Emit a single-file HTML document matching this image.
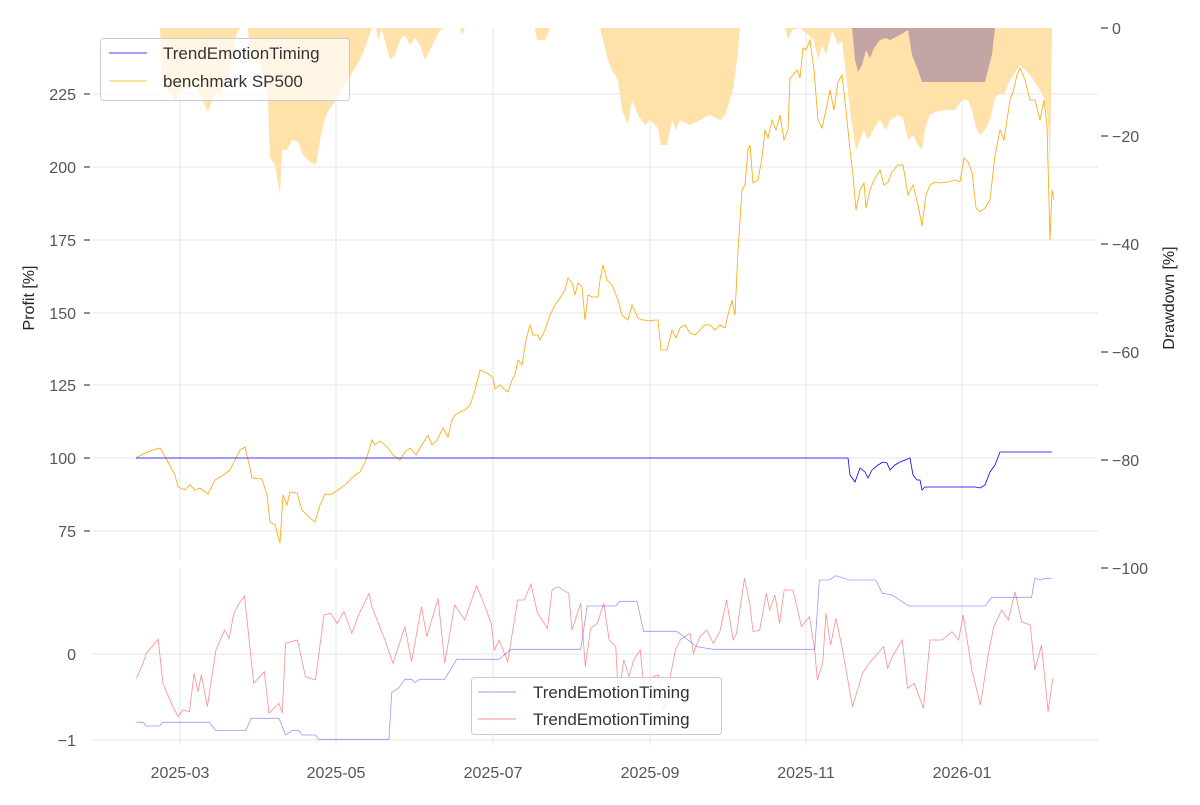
<!DOCTYPE html>
<html><head><meta charset="utf-8"><style>
body{margin:0;background:#fff}
svg text{font-family:"Liberation Sans",sans-serif;}
</style></head><body>
<svg width="1200" height="800" viewBox="0 0 1200 800" xmlns="http://www.w3.org/2000/svg">
<rect width="1200" height="800" fill="#fff"/>
<g stroke="#e5e5e5" stroke-width="1">
<line x1="93" x2="1098" y1="94" y2="94"/><line x1="93" x2="1098" y1="167" y2="167"/><line x1="93" x2="1098" y1="240" y2="240"/><line x1="93" x2="1098" y1="313" y2="313"/><line x1="93" x2="1098" y1="385" y2="385"/><line x1="93" x2="1098" y1="458" y2="458"/><line x1="93" x2="1098" y1="531" y2="531"/>
<line x1="180" x2="180" y1="28" y2="560"/><line x1="336" x2="336" y1="28" y2="560"/><line x1="493" x2="493" y1="28" y2="560"/><line x1="650" x2="650" y1="28" y2="560"/><line x1="806" x2="806" y1="28" y2="560"/><line x1="962" x2="962" y1="28" y2="560"/>
<line x1="93" x2="1098" y1="654" y2="654"/><line x1="93" x2="1098" y1="740" y2="740"/>
<line x1="180" x2="180" y1="568" y2="745"/><line x1="336" x2="336" y1="568" y2="745"/><line x1="493" x2="493" y1="568" y2="745"/><line x1="650" x2="650" y1="568" y2="745"/><line x1="806" x2="806" y1="568" y2="745"/><line x1="962" x2="962" y1="568" y2="745"/>
</g>
<polygon fill="#ffe1aa" points="160,28 162,80 168,90 175,100 180,95 185,88 190,90 195,85 200,95 205,105 208,112 212,100 216,92 220,95 225,80 230,70 233,55 236,35 240,28 248,28 250,55 255,60 260,65 265,80 268,100 270,158 275,165 280,195 282,150 287,150 292,140 298,142 303,155 310,162 316,165 320,140 325,118 330,108 337,100 342,90 348,80 355,68 360,60 366,45 372,28 376,28 378,40 382,30 386,45 390,60 395,55 400,40 405,35 410,45 415,38 420,45 425,60 430,50 435,40 440,30 445,28 460,28 462,35 465,28 535,28 537,40 545,40 550,28 600,28 603,40 608,60 612,70 618,80 622,110 628,125 632,100 638,115 645,125 650,120 655,125 658,128 661,145 667,145 672,120 676,130 680,120 690,125 700,120 710,115 720,120 725,115 730,100 733,90 737,60 740,28 785,28 788,40 792,30 800,28 814,40 818,60 822,45 826,55 832,30 838,45 842,40 846,75 850,110 852,125 856,150 860,140 864,130 868,140 872,132 876,125 880,120 886,130 890,120 898,115 903,118 908,140 913,135 918,145 922,150 926,125 930,115 935,112 945,110 955,110 962,100 968,100 972,110 976,128 980,135 985,130 990,120 995,98 1000,93 1004,95 1010,80 1020,65 1030,75 1040,90 1045,100 1048,120 1050,170 1052,30 1052,28"/>
<polygon fill="#c4a5a5" points="852,28 855,60 858,72 862,65 866,50 870,58 874,48 880,40 886,38 890,40 900,35 908,30 912,55 918,70 922,82 960,82 985,82 988,70 992,55 995,28"/>
<polyline fill="none" stroke="#ffa500" stroke-width="0.8" points="136,458 145,453 150,451 160,448 163,453 168,462 175,475 178,487 185,490 190,485 195,490 200,488 208,494 215,480 222,476 230,470 235,460 240,450 245,447 250,468 252,478 262,479 267,495 270,522 275,525 280,543 283,495 287,505 290,492 297,493 302,510 310,518 315,522 320,505 325,494 330,495 338,490 345,485 350,480 355,475 360,472 366,460 372,440 375,445 380,441 387,447 393,455 400,460 405,452 410,448 416,455 420,448 425,440 428,435 432,445 437,440 443,428 448,437 452,420 455,415 460,412 465,410 470,405 475,390 480,370 485,372 490,375 493,378 495,389 500,385 505,390 508,392 512,380 515,375 518,360 522,365 526,340 530,325 533,335 538,335 540,340 545,330 550,315 555,305 560,298 565,290 568,278 572,283 575,295 578,283 582,287 585,320 588,295 592,297 598,297 600,280 603,265 607,280 612,285 618,300 622,315 628,320 632,305 638,318 642,320 645,320 650,321 655,320 658,320 661,350 667,350 672,330 676,338 680,328 685,325 690,333 695,335 700,330 705,325 710,325 715,330 720,325 725,328 728,315 732,300 735,315 738,250 742,190 745,185 748,150 750,145 753,183 758,180 762,158 765,130 768,138 772,120 776,130 780,115 784,140 788,130 790,78 793,75 797,70 800,78 803,48 806,50 810,40 814,70 818,120 822,128 826,110 830,90 834,110 838,82 842,75 846,110 850,150 853,175 856,210 860,190 864,183 866,208 870,190 874,180 880,170 884,185 888,182 892,172 898,165 903,165 908,195 913,185 918,205 922,226 926,195 930,185 935,182 940,183 948,182 955,180 960,182 964,158 968,162 972,172 976,208 980,212 985,208 990,200 995,155 1000,130 1004,140 1010,100 1013,92 1017,75 1020,68 1025,80 1030,100 1035,100 1040,120 1044,100 1047,125 1050,240 1052,190 1054,200"/>
<polyline fill="none" stroke="#0000ff" stroke-width="0.8" points="136,458 848,458 850,475 855,482 860,468 865,472 868,478 872,470 878,465 883,462 887,463 890,470 895,465 900,462 905,460 910,458 913,475 917,480 920,480 922,490 925,487 975,487 980,488 985,485 990,472 995,465 1000,452 1052,452"/>
<g transform="translate(80,560) scale(0.6631,0.3333)">
<polyline fill="none" stroke="#ff0000" stroke-opacity="0.45" stroke-width="0.8" vector-effect="non-scaling-stroke" points="85,355 95,310 100,280 118,238 125,370 140,440 148,470 155,450 165,455 172,340 178,395 183,345 192,440 205,270 218,210 225,235 232,160 240,130 248,108 262,370 278,335 285,460 300,430 305,460 310,250 328,240 340,350 355,360 368,165 378,160 388,190 398,155 410,220 420,165 436,100 440,140 458,230 472,310 490,200 500,305 515,140 523,230 540,115 550,310 565,135 580,180 598,78 610,135 620,190 625,270 632,240 645,305 660,120 670,120 680,72 690,160 705,205 712,90 720,80 737,100 742,210 755,130 762,320 770,205 780,190 790,130 798,240 808,260 812,420 820,300 828,350 835,300 845,270 850,380 865,350 872,345 880,450 890,350 898,270 905,240 920,220 925,280 935,230 945,210 955,250 965,215 975,120 985,240 990,220 1002,55 1010,130 1015,215 1025,210 1035,100 1040,150 1048,105 1055,190 1062,90 1075,90 1080,130 1088,200 1100,170 1108,270 1112,360 1120,310 1125,160 1132,255 1140,175 1150,270 1165,440 1180,340 1190,310 1212,260 1218,325 1225,290 1240,240 1248,385 1258,370 1272,445 1282,240 1300,240 1315,215 1325,240 1332,165 1345,330 1358,435 1370,280 1378,200 1390,150 1400,180 1410,95 1420,185 1433,195 1440,330 1450,255 1460,455 1467,355"/>
<polyline fill="none" stroke="#0000ff" stroke-opacity="0.4" stroke-width="0.8" vector-effect="non-scaling-stroke" points="85,487 95,487 100,498 120,498 125,487 195,487 205,512 250,512 258,475 300,475 310,525 320,512 330,512 335,525 355,525 360,538 466,538 470,398 480,385 490,358 500,358 505,368 512,358 550,358 568,298 632,298 650,268 755,268 765,138 808,138 814,124 840,124 850,214 900,214 930,260 955,268 1108,268 1115,60 1130,60 1140,47 1160,60 1200,60 1210,100 1225,105 1240,125 1250,138 1365,138 1375,112 1435,112 1440,55 1450,60 1455,55 1465,55"/>
</g>
<g stroke="#444" stroke-width="1.2">
<line x1="84" x2="90" y1="94" y2="94"/><line x1="84" x2="90" y1="167" y2="167"/><line x1="84" x2="90" y1="240" y2="240"/><line x1="84" x2="90" y1="313" y2="313"/><line x1="84" x2="90" y1="385" y2="385"/><line x1="84" x2="90" y1="458" y2="458"/><line x1="84" x2="90" y1="531" y2="531"/>
<line x1="1101" x2="1108" y1="28" y2="28"/><line x1="1101" x2="1108" y1="136" y2="136"/><line x1="1101" x2="1108" y1="244" y2="244"/><line x1="1101" x2="1108" y1="352" y2="352"/><line x1="1101" x2="1108" y1="460" y2="460"/><line x1="1101" x2="1108" y1="568" y2="568"/>
</g>
<g fill="#555" font-size="16" text-anchor="end">
<text x="76" y="100">225</text><text x="76" y="173">200</text><text x="76" y="246">175</text><text x="76" y="319">150</text><text x="76" y="391">125</text><text x="76" y="464">100</text><text x="76" y="537">75</text>
<text x="76" y="660">0</text><text x="76" y="746">−1</text>
</g>
<g fill="#555" font-size="16">
<text x="1112" y="34">0</text><text x="1112" y="142">−20</text><text x="1112" y="250">−40</text><text x="1112" y="358">−60</text><text x="1112" y="466">−80</text><text x="1112" y="574">−100</text>
</g>
<g fill="#555" font-size="16" text-anchor="middle">
<text x="180" y="778">2025-03</text><text x="336" y="778">2025-05</text><text x="493" y="778">2025-07</text><text x="650" y="778">2025-09</text><text x="806" y="778">2025-11</text><text x="962" y="778">2026-01</text>
</g>
<text transform="translate(34,298) rotate(-90)" text-anchor="middle" font-size="16" fill="#222">Profit [%]</text>
<text transform="translate(1174,298) rotate(-90)" text-anchor="middle" font-size="16" fill="#222">Drawdown [%]</text>
<rect x="100.5" y="38.5" width="249" height="62" rx="3" fill="#fff" fill-opacity="0.7" stroke="#ccc"/>
<line x1="109" x2="147" y1="53" y2="53" stroke="#0000ff" stroke-width="0.8"/>
<line x1="109" x2="147" y1="81" y2="81" stroke="#ffa500" stroke-width="0.8"/>
<text x="163" y="59" font-size="17" fill="#333">TrendEmotionTiming</text>
<text x="163" y="87" font-size="17" fill="#333">benchmark SP500</text>
<rect x="471.5" y="677.5" width="250" height="57" rx="3" fill="#fff" fill-opacity="0.8" stroke="#ccc"/>
<line x1="478" x2="516" y1="692" y2="692" stroke="#0000ff" stroke-opacity="0.4" stroke-width="1"/>
<line x1="478" x2="516" y1="719" y2="719" stroke="#ff0000" stroke-opacity="0.45" stroke-width="1"/>
<text x="533" y="698" font-size="17" fill="#333">TrendEmotionTiming</text>
<text x="533" y="725" font-size="17" fill="#333">TrendEmotionTiming</text>
</svg>
</body></html>
